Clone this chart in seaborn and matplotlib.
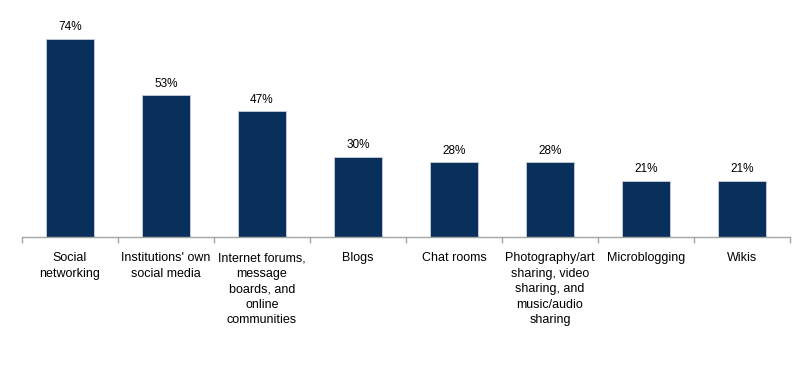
import matplotlib
matplotlib.use("Agg")
import matplotlib.pyplot as plt
import seaborn as sns
import pandas as pd
import numpy as np

categories = [
    "Social\nnetworking",
    "Institutions' own\nsocial media",
    "Internet forums,\nmessage\nboards, and\nonline\ncommunities",
    "Blogs",
    "Chat rooms",
    "Photography/art\nsharing, video\nsharing, and\nmusic/audio\nsharing",
    "Microblogging",
    "Wikis",
]
values = [74, 53, 47, 30, 28, 28, 21, 21]

df = pd.DataFrame({"category": categories, "value": values})

sns.set_style("white")
plt.rcParams["font.family"] = ["Liberation Sans", "DejaVu Sans"]

fig = plt.figure(figsize=(8.1, 3.68), dpi=100)
ax = fig.add_axes([22 / 810, 131 / 368, 768 / 810, 1 - 131 / 368 - 23 / 368])

sns.barplot(data=df, x="category", y="value", color="#08305A", saturation=1,
            width=0.49, edgecolor="#C8D0DC", linewidth=0.6, ax=ax)

ax.set_xlim(-0.5, len(categories) - 0.5)
ax.set_ylim(0, 80)
ax.set_xlabel("")
ax.set_ylabel("")
ax.set_yticks([])

for s in ["top", "right", "left"]:
    ax.spines[s].set_visible(False)
ax.spines["bottom"].set_color("#A6A6A6")
ax.spines["bottom"].set_linewidth(1)

ax.set_xticks(np.arange(len(categories)))
ax.set_xticklabels(categories, fontsize=9, linespacing=1.38, va="top", color="black")
ax.tick_params(axis="x", which="major", length=0, pad=11)
ax.set_xticks(np.arange(-0.5, len(categories)), minor=True)
ax.tick_params(axis="x", which="minor", bottom=True, length=4, color="#A6A6A6", width=1)

for i, v in enumerate(values):
    ax.annotate(f"{v}%", (i, v), xytext=(0, 4), textcoords="offset points",
                ha="center", va="bottom", fontsize=8.5, color="black")

fig.savefig("out.png", dpi=100)
